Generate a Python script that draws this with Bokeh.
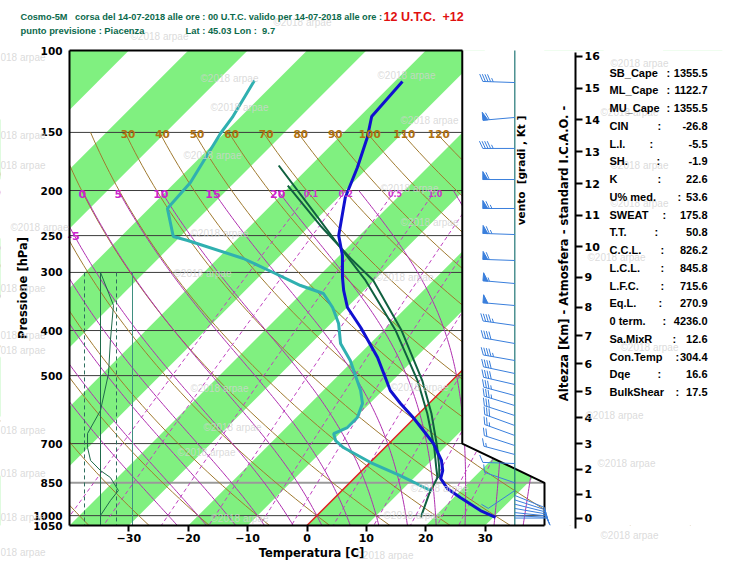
import numpy as np
from bokeh.plotting import figure
from bokeh.models import (Range1d, FixedTicker, LinearAxis, LogAxis, Label,
                          CustomJSTickFormatter, PrintfTickFormatter)
from bokeh.core.properties import value
from bokeh.embed import file_html
from bokeh.resources import INLINE

# ---------------- data ----------------
temp_p = [116.6, 138.6, 153.8, 178.5, 207.0, 249.9, 275.9, 307.6, 328.1, 356.9, 394.0, 457.2,
          538.3, 574.0, 615.3, 656.2, 699.8, 761.1, 799.8, 832.1, 874.4, 914.3, 975.0, 1009.0]
temp_t = [-58.7, -58.0, -55.2, -51.8, -48.8, -43.5, -39.5, -35.8, -33.4, -29.9, -24.3, -16.4,
          -8.7, -4.8, -0.3, 3.6, 7.5, 11.7, 13.6, 14.6, 17.4, 21.1, 26.7, 30.4]
dew_p = [116.0, 139.3, 150.8, 192.2, 218.6, 251.1, 256.1, 280.0, 300.1, 320.1, 333.0, 356.9,
         386.3, 426.5, 464.0, 538.3, 574.0, 615.3, 646.5, 666.0, 689.4, 713.7, 768.7, 820.0, 883.0]
dew_t = [-83.8, -81.3, -80.6, -77.4, -76.9, -71.2, -68.1, -55.7, -48.3, -41.5, -36.3, -32.4,
         -28.7, -25.0, -20.5, -13.7, -11.2, -9.7, -9.7, -11.0, -9.5, -7.0, 0.1, 7.3, 14.9]
parcel_a_p = [176.7, 217.5, 265.2, 312.2, 400.0, 512.3, 603.2, 713.7, 788.0, 828.0, 896.0, 1009.0]
parcel_a_t = [-65.4, -53.0, -41.2, -31.4, -17.9, -5.8, 1.4, 8.3, 12.0, 13.9, 15.2, 17.8]
parcel_b_p = [195.1, 237.8, 280.0, 312.2, 400.0, 512.3, 603.2, 713.7, 788.0, 828.0]
parcel_b_t = [-60.5, -48.3, -37.6, -30.1, -16.9, -5.0, 2.1, 8.8, 12.5, 14.2]

box_p = [300, 353, 420, 495, 594, 666, 714, 761, 800, 828, 883, 928, 999]
box_u = [0.0, 0.81, 0.62, 0.5, 0.0, -0.81, -0.81, -0.62, 0.0, 0.62, 1.12, 0.62, 0.0]
box_guides = [-1, 0, 1, 2]

wind_p = [117.2, 139.3, 162.4, 189.4, 218.6, 248.7, 282.8, 316.9, 353.4, 390.1, 426.5, 464.0,
          494.8, 522.5, 551.8, 579.8, 609.2, 640.1, 672.5, 706.7, 738.9, 772.6, 850.0, 883.0,
          905.0, 925.0, 945.0, 965.0, 985.0, 1000.0, 1012.0]
wind_dir = [272, 265, 270, 270, 270, 272, 272, 275, 275, 278, 280, 280, 282, 283, 285, 287,
            288, 290, 290, 288, 285, 272, 289, 236, 112, 108, 104, 100, 96, 93, 90]
wind_spd = [45, 60, 45, 60, 65, 65, 60, 55, 50, 45, 40, 45, 40, 40, 35, 35, 30, 30, 25, 20,
            15, 10, 10, 10, 10, 10, 10, 10, 10, 10, 10]

index_names = ["SB_Cape", "ML_Cape", "MU_Cape", "CIN", "L.I.", "SH.", "K", "U% med.", "SWEAT",
               "T.T.", "C.C.L.", "L.C.L.", "L.F.C.", "Eq.L.", "0 term.", "Sa.MixR", "Con.Temp",
               "Dqe", "BulkShear"]
index_values = ["1355.5", "1122.7", "1355.5", "-26.8", "-5.5", "-1.9", "22.6", "53.6", "175.8",
                "50.8", "826.2", "845.8", "715.6", "270.9", "4236.0", "12.6", "304.4", "16.6", "17.5"]

dry_theta = list(range(-40, 210, 10))
dry_labels = [30, 40, 50, 60, 70, 80, 90, 100, 110, 120]
moist_thw = list(range(-25, 40, 5))
moist_labels = [0, 5, 10, 15, 20]
mix_w = [0.1, 0.2, 0.5, 1.0, 2.0, 3.0, 5.0, 8.0, 12.0, 16.0, 20.0]
mix_labels = [0.1, 0.2, 0.5, 1.0]
p_lines = [150, 200, 250, 300, 400, 500, 700, 850, 1000]
p_ticks = [100, 150, 200, 250, 300, 400, 500, 700, 850, 1000, 1050]
t_ticks = [-30, -20, -10, 0, 10, 20, 30]
km_ticks = list(range(0, 17))
stripe_starts = list(range(-120, 40, 20))

# ---------------- geometry ----------------
W, H = 735, 560
P_BOT, P_TOP = 1050.0, 100.0
FX, FY = 69, 50                      # pixel position of the diagram's top-left corner
DIAG_H = 475
X0 = -40.0
PX_PER_C = 5.9375
PX_PER_LN = DIAG_H / np.log(P_BOT / P_TOP)
K = PX_PER_LN / PX_PER_C
X_EDGE_UP = 26.15                    # right border of the diagram above 700 hPa
X_EDGE_LOW = 40.0
X_WIND = 35.0
NB = "\u00a0"


def skx(t, p):
    return np.asarray(t, float) + K * np.log(P_BOT / np.asarray(p, float))


def xd(px):
    return X0 + (px - FX) / PX_PER_C


def pd(py):
    return float(P_TOP * np.exp((py - FY) / PX_PER_LN))


X_KM = xd(575)
BOX_X0, BOX_DX = xd(100), 16 / PX_PER_C

# thermodynamics for background lines
Rd, Cp, Lv, EPS = 287.04, 1005.7, 2.501e6, 0.622


def esat(tk):
    return 6.112 * np.exp(17.67 * (tk - 273.15) / (tk - 29.65))


def moist_rate(tk, p):
    e = esat(tk)
    rs = EPS * e / (p - e)
    return (Rd * tk + Lv * rs) / (Cp + Lv * Lv * rs * EPS / (Rd * tk * tk))


def integ(p0, t0, p1, steps):
    lp = np.linspace(np.log(p0), np.log(p1), steps + 1)
    out = [t0]
    for i in range(steps):
        h = lp[i + 1] - lp[i]
        t = out[-1]
        pa, pm, pb = np.exp(lp[i]), np.exp(lp[i] + h / 2), np.exp(lp[i + 1])
        k1 = moist_rate(t, pa)
        k2 = moist_rate(t + h / 2 * k1, pm)
        k3 = moist_rate(t + h / 2 * k2, pm)
        k4 = moist_rate(t + h * k3, pb)
        out.append(t + h / 6 * (k1 + 2 * k2 + 2 * k3 + k4))
    return np.exp(lp), np.array(out)


def moist_adiabat(thw, p_top):
    pu, tu = integ(1000.0, thw + 273.15, p_top, 120)
    pl, tl = integ(1000.0, thw + 273.15, P_BOT, 6)
    return np.concatenate([pu[::-1], pl[1:]]), np.concatenate([tu[::-1], tl[1:]]) - 273.15


def dry_adiabat(theta, p):
    return (theta + 273.15) * (p / 1000.0) ** 0.2857 - 273.15


def mix_temp(w, p):
    e = (w / 1000.0) * p / (EPS + w / 1000.0)
    lg = np.log(e / 6.112)
    return 243.5 * lg / (17.67 - lg)


# ---------------- figure ----------------
XL, XR = xd(0), xd(W)
PB, PT = pd(H), pd(0)
p = figure(width=W, height=H, x_range=Range1d(XL, XR), y_range=Range1d(PB, PT),
           y_axis_type="log", x_axis_location=None, y_axis_location=None,
           output_backend="svg", toolbar_location=None,
           min_border=0, min_border_left=0, min_border_right=0, min_border_top=0,
           min_border_bottom=0, background_fill_color="white", border_fill_color="white")
p.outline_line_color = None
p.grid.grid_line_color = None

TICKFONT = value("DejaVu Sans")

# green stripes
sx, sy = [], []
ln_span = K * np.log(P_BOT / P_TOP)
for t0 in stripe_starts:
    sx.append([t0, t0 + 10, t0 + 10 + ln_span, t0 + ln_span])
    sy.append([P_BOT, P_BOT, P_TOP, P_TOP])
p.patches(sx, sy, fill_color="#80F080", line_color=None)

# pressure lines
for lev in p_lines:
    col = "#9a9a9a" if lev == 850 else "#3c3c3c"
    lw = 2 if lev == 850 else 1
    p.line([X0, X_EDGE_LOW], [lev, lev], line_color=col, line_width=lw)

# dry adiabats
pp = np.geomspace(150, P_BOT, 60)
p.multi_line([list(skx(dry_adiabat(th, pp), pp)) for th in dry_theta],
             [list(pp) for _ in dry_theta], line_color="#a07a30", line_width=1)

# moist adiabats
mxs, mys = [], []
moist_at_200 = {}
for thw in moist_thw:
    mp, mt = moist_adiabat(thw, 200.0)
    mxs.append(list(skx(mt, mp)))
    mys.append(list(mp))
    moist_at_200[thw] = skx(mt[0], mp[0])
p.multi_line(mxs, mys, line_color="#b030b0", line_width=1)

# mixing ratio lines
pm = np.geomspace(200, P_BOT, 40)
p.multi_line([list(skx(mix_temp(w, pm), pm)) for w in mix_w], [list(pm) for _ in mix_w],
             line_color="#c040c0", line_width=1, line_dash="4 3")

# 0 C isotherm
p.line(skx([0, 0], [P_BOT, P_TOP]), [P_BOT, P_TOP], line_color="#e02020", line_width=1.5)

# lower-left box
for u in box_guides:
    xg = BOX_X0 + u * BOX_DX
    if u in (-1, 1):
        p.line([xg, xg], [300, P_BOT], line_color="#2f6f5f", line_width=1, line_dash="4 3")
    elif u == 0:
        p.line([xg, xg], [300, P_BOT], line_color="#1f6a4a", line_width=1)
    else:
        p.line([xg, xg], [300, P_BOT], line_color="#3f8f80", line_width=1)
p.line([BOX_X0 + u * BOX_DX for u in box_u], box_p, line_color="#1f6a4a", line_width=1)

# profiles
p.line(skx(dew_t, dew_p), dew_p, line_color="#30b0b0", line_width=3)
p.line(skx(parcel_a_t, parcel_a_p), parcel_a_p, line_color="#106040", line_width=2)
p.line(skx(parcel_b_t, parcel_b_p), parcel_b_p, line_color="#106040", line_width=2)
p.line(skx(temp_t, temp_p), temp_p, line_color="#1010d0", line_width=3)

# masks around the diagram
p.patch([XL - 1, X0, X0, XL - 1], [PB * 1.05, PB * 1.05, PT / 1.05, PT / 1.05],
        fill_color="white", line_color=None)
p.patch([XL - 1, XR + 1, XR + 1, XL - 1], [P_TOP, P_TOP, PT / 1.05, PT / 1.05],
        fill_color="white", line_color=None)
p.patch([XL - 1, XR + 1, XR + 1, XL - 1], [P_BOT, P_BOT, PB * 1.05, PB * 1.05],
        fill_color="white", line_color=None)
p.patch([X_EDGE_UP, X_EDGE_UP, X_EDGE_LOW, X_EDGE_LOW, XR + 1, XR + 1],
        [P_TOP, 700, 850, P_BOT, P_BOT, P_TOP], fill_color="white", line_color=None)

# isoline labels
p.text(x=[float(skx(dry_adiabat(th, 150.0), 150.0)) + 0.5 for th in dry_labels],
       y=[150.0] * len(dry_labels), text=[str(v) for v in dry_labels],
       text_align="center", text_baseline="alphabetic", y_offset=2,
       text_color="#b07010", text_font=TICKFONT, text_font_style="bold", text_font_size="10.5px")
p.text(x=[float(moist_at_200[v]) for v in moist_labels], y=[200.0] * len(moist_labels),
       text=[str(v) for v in moist_labels], text_align="center", text_baseline="alphabetic",
       y_offset=3, text_color="#cc22cc", text_font=TICKFONT, text_font_style="bold",
       text_font_size="11px")
p.text(x=[X0], y=[250.0], text=["-5"], text_align="left", text_baseline="middle", x_offset=-2,
       text_color="#cc22cc", text_font=TICKFONT, text_font_style="bold", text_font_size="11px")
p.text(x=[float(skx(mix_temp(w, 200.0), 200.0)) for w in mix_labels], y=[200.0] * len(mix_labels),
       text=["%.1f" % w for w in mix_labels], text_align="center", text_baseline="alphabetic",
       y_offset=3, text_color="#cc33cc", text_font=TICKFONT, text_font_style="bold",
       text_font_size="8px")

# diagram border (right side)
p.line([X_EDGE_UP, X_EDGE_UP, X_EDGE_LOW, X_EDGE_LOW], [P_TOP, 700, 850, P_BOT],
       line_color="black", line_width=2)

# wind section
p.line([X_WIND, X_WIND], [P_TOP, P_BOT], line_color="#207575", line_width=1.2)


def to_data(x_anchor, p_anchor, dx, dy_up):
    return x_anchor + dx / PX_PER_C, p_anchor * np.exp(-dy_up / PX_PER_LN)


def rot(vx, vy, ang):
    a = np.radians(ang)
    return vx * np.cos(a) - vy * np.sin(a), vx * np.sin(a) + vy * np.cos(a)


bx0, by0, bx1, by1 = [], [], [], []
txs, tys = [], []
STAFF, FL, GAP, PEN_B = 32.0, 8.0, 2.6, 5.0
for wp, wdir, wspd in zip(wind_p, wind_dir, wind_spd):
    d = np.radians(wdir)
    ux, uy = np.sin(d), np.cos(d)
    fx, fy = rot(ux, uy, -65)
    nx, ny = rot(ux, uy, -90)
    x_e, p_e = to_data(X_WIND, wp, STAFF * ux, STAFF * uy)
    bx0.append(X_WIND); by0.append(wp); bx1.append(x_e); by1.append(p_e)
    s = int(5 * round(wspd / 5.0))
    n50, s = divmod(s, 50)
    n10, s = divmod(s, 10)
    n5 = s // 5
    pos = STAFF
    for _ in range(n50):
        a1 = to_data(X_WIND, wp, pos * ux, pos * uy)
        tip = to_data(X_WIND, wp, pos * ux + FL * nx, pos * uy + FL * ny)
        a2 = to_data(X_WIND, wp, (pos - PEN_B) * ux, (pos - PEN_B) * uy)
        txs.append([a1[0], tip[0], a2[0]]); tys.append([a1[1], tip[1], a2[1]])
        pos -= PEN_B + 1.5
    for _ in range(n10):
        a1 = to_data(X_WIND, wp, pos * ux, pos * uy)
        a2 = to_data(X_WIND, wp, pos * ux + FL * fx, pos * uy + FL * fy)
        bx0.append(a1[0]); by0.append(a1[1]); bx1.append(a2[0]); by1.append(a2[1])
        pos -= GAP
    for _ in range(n5):
        a1 = to_data(X_WIND, wp, pos * ux, pos * uy)
        a2 = to_data(X_WIND, wp, pos * ux + FL / 2 * fx, pos * uy + FL / 2 * fy)
        bx0.append(a1[0]); by0.append(a1[1]); bx1.append(a2[0]); by1.append(a2[1])
p.segment(bx0, by0, bx1, by1, line_color="#3a7fdc", line_width=1)
if txs:
    p.patches(txs, tys, fill_color="#3a7fdc", line_color="#3a7fdc", line_width=1)

# ---------------- axes ----------------
left = LogAxis(ticker=FixedTicker(ticks=p_ticks), formatter=PrintfTickFormatter(format="%d"),
               fixed_location=X0, bounds=(P_TOP, P_BOT),
               axis_label="Pressione [hPa]", axis_label_standoff=0,
               axis_label_text_font="DejaVu Sans", axis_label_text_font_style="bold",
               axis_label_text_font_size="11.5px", axis_label_text_color="black",
               major_tick_out=0, major_tick_in=0, minor_tick_out=0, minor_tick_in=0,
               major_label_standoff=7, axis_line_width=2, axis_line_color="black",
               major_label_text_font="DejaVu Sans", major_label_text_font_style="bold",
               major_label_text_font_size="10.5px", major_label_text_color="black")
p.add_layout(left, "left")

bottom = LinearAxis(ticker=FixedTicker(ticks=t_ticks), fixed_location=P_BOT,
                    bounds=(X0, X_EDGE_LOW),
                    major_tick_out=6, major_tick_in=0, minor_tick_out=0, minor_tick_in=0,
                    major_tick_line_width=2, major_label_standoff=2,
                    axis_line_width=2, axis_line_color="black",
                    major_label_text_font="DejaVu Sans", major_label_text_font_style="bold",
                    major_label_text_font_size="11px", major_label_text_color="black")
p.add_layout(bottom, "below")

top = LinearAxis(ticker=FixedTicker(ticks=[]), fixed_location=P_TOP, bounds=(X0, X_EDGE_UP),
                 major_tick_out=0, major_tick_in=0, minor_tick_out=0, minor_tick_in=0,
                 axis_line_width=2, axis_line_color="black", major_label_text_font_size="0px")
p.add_layout(top, "above")


def std_pressure(h_km):
    h = h_km * 1000.0
    if h <= 11000:
        return 1013.25 * (1 - 0.0065 * h / 288.15) ** 5.25588
    return 226.32 * np.exp(-(h - 11000) / 6341.62)


km_p = [float(std_pressure(h)) for h in km_ticks]
km_fmt = CustomJSTickFormatter(code="""
    let h;
    if (tick >= 226.32) { h = 288.15/0.0065*(1 - Math.pow(tick/1013.25, 1/5.25588)); }
    else { h = 11000 + 6341.62*Math.log(226.32/tick); }
    return Math.round(h/1000).toString();
""")
right = LogAxis(ticker=FixedTicker(ticks=km_p), formatter=km_fmt, fixed_location=X_KM,
                bounds=(pd(52), pd(528)),
                major_tick_out=7, major_tick_in=0, minor_tick_out=0, minor_tick_in=0,
                major_tick_line_width=2, major_label_standoff=2,
                axis_line_width=2, axis_line_color="black",
                major_label_text_font="DejaVu Sans", major_label_text_font_style="bold",
                major_label_text_font_size="11px", major_label_text_color="black")
p.add_layout(right, "right")


# ---------------- texts ----------------
def add_label(text, px, py, size, color="black", font="Liberation Sans", align="left",
              baseline="middle", angle=0.0, style="bold", alpha=1.0):
    p.add_layout(Label(x=xd(px), y=pd(py), text=text, text_font=font,
                       text_font_size=size, text_font_style=style, text_color=color,
                       text_align=align, text_baseline=baseline, angle=angle,
                       text_alpha=alpha))


# watermarks
wm_full = [(273, 22), (130, 36), (200, 78), (210, 107), (183, 155), (10, 227), (190, 233),
           (173, 273), (377, 75), (400, 120), (380, 188), (400, 222), (375, 277), (610, 63),
           (600, 112), (610, 165), (610, 203), (587, 257), (620, 347), (585, 415), (597, 463),
           (190, 388), (203, 427), (177, 452), (210, 518), (390, 387), (410, 488), (383, 515),
           (600, 535), (355, 555)]
wm_cut = [(0, 57), (0, 135), (0, 165), (0, 288), (0, 335), (0, 350), (0, 430), (0, 473),
          (0, 517), (0, 552)]
for wx, wy in wm_full:
    add_label("\u00a92018 arpae", wx, wy, "10px", color="#d2d2d2", style="normal", alpha=0.8)
for wx, wy in wm_cut:
    add_label("018 arpae", wx, wy, "10px", color="#d2d2d2", style="normal", alpha=0.8)

add_label("Cosmo-5M" + NB * 3 + "corsa del 14-07-2018 alle ore : 00 U.T.C. valido per "
          "14-07-2018 alle ore :", 20, 16, "9.2px", color="#0c6a4c")
add_label("12 U.T.C." + NB * 2 + "+12", 383, 16, "12.5px", color="#e01010")
add_label("punto previsione : Piacenza", 20, 30, "9.4px", color="#0c6a4c")
add_label("Lat : 45.03 Lon :" + NB * 2 + "9.7", 185, 30, "9.4px", color="#0c6a4c")

add_label("Temperatura [C]", 311, 552, "11.5px", font="DejaVu Sans", align="center")
add_label("vento" + NB + " [gradi , Kt ]", 520, 170, "10.5px", font="DejaVu Sans",
          align="center", angle=np.pi / 2)
add_label("Altezza [Km] - Atmosfera - standard I.C.A.O. -", 563, 253, "11.5px",
          font="DejaVu Sans", align="center", angle=np.pi / 2)

colon_px = [666, 666, 666, 657, 649, 656, 657, 677, 662, 654, 660, 660, 660, 658, 662, 672, 675,
            657, 675]
for i, (nm, vv) in enumerate(zip(index_names, index_values)):
    yy = 72 + 17.75 * i
    add_label(nm, 609, yy, "11px")
    add_label(":", colon_px[i], yy, "11px")
    add_label(vv, 707, yy, "11px", align="right")

open("out.html", "w").write(file_html(p, INLINE))
